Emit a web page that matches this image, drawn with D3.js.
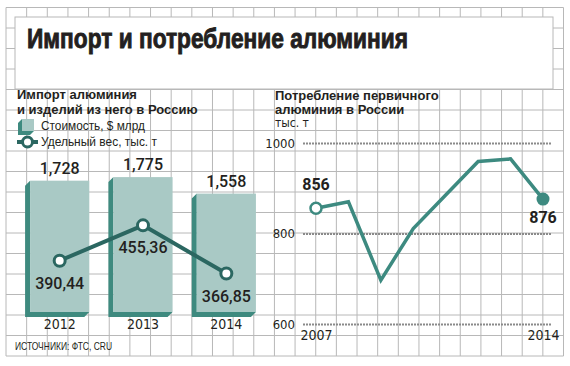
<!DOCTYPE html>
<html>
<head>
<meta charset="utf-8">
<script src="https://cdn.jsdelivr.net/npm/d3@7"></script>
<style>
  body { margin: 0; background: #fff; }
  text { fill: #231f20; }
</style>
</head>
<body>
<div id="chart"></div>
<script>
// data
const barYears = ["2012", "2013", "2014"];
const importCost = [1.728, 1.775, 1.558];       // $ млрд
const importWeight = [390.44, 455.36, 366.85];  // тыс. т
const consYears = [2007, 2008, 2009, 2010, 2011, 2012, 2013, 2014];
const consValues = [856, 870, 697, 811, 885, 959, 965, 876];
const consTicks = [600, 800, 1000];
const consXTicks = [2007, 2014];

const W = 570, H = 366;
const ru = d3.formatLocale({decimal: ",", thousands: " ", grouping: [3], currency: ["", ""]});

let svg = d3.select("#chart").append("svg")
    .attr("width", W).attr("height", H);

// graph paper background
const gridCol = "#b8b8b8";
let gx0 = 6, gx1 = 563.5, gy0 = 7.5, gy1 = 356;
let grid = svg.append("g");
for (let k = 0; k <= 27; k++) {
    let x = gx0 + (gx1 - gx0) / 27 * k;
    grid.append("line").attr("x1", x).attr("x2", x).attr("y1", gy0).attr("y2", gy1)
        .attr("stroke", gridCol).attr("stroke-width", 1);
}
for (let k = 0; k <= 17; k++) {
    let y = gy0 + (gy1 - gy0) / 17 * k;
    grid.append("line").attr("x1", gx0).attr("x2", gx1).attr("y1", y).attr("y2", y)
        .attr("stroke", gridCol).attr("stroke-width", 1);
}

const boldFont = "'Liberation Sans', Arial, sans-serif";
const narrow = "'Liberation Sans Narrow', 'DejaVu Sans Condensed', sans-serif";
const numFont = "Roboto, sans-serif";

// title box
svg.append("rect").attr("x", 15).attr("y", 17).attr("width", 538).attr("height", 72)
    .attr("fill", "#fff").attr("stroke", gridCol);
svg.append("text").attr("x", 27).attr("y", 48)
    .attr("textLength", 381).attr("lengthAdjust", "spacingAndGlyphs")
    .style("font-family", boldFont)
    .style("font-weight", "bold").style("font-size", "27px")
    .style("stroke", "#231f20").style("stroke-width", "0.9px")
    .text("Импорт и потребление алюминия");

// ---------- left chart: import ----------
let left = svg.append("g");
left.append("text").attr("x", 17).attr("y", 99)
    .style("font-family", boldFont).style("font-weight", "bold").style("font-size", "13px")
    .text("Импорт алюминия");
left.append("text").attr("x", 17).attr("y", 114)
    .style("font-family", boldFont).style("font-weight", "bold").style("font-size", "13px")
    .text("и изделий из него в Россию");

const lightTeal = "#a9c9c5", darkTeal = "#3e8a7f", lineTeal = "#2b6761";

// legend
left.append("polygon").attr("points", "22,119 18,123 18,135 30,135 34,131 22,131")
    .attr("fill", darkTeal);
left.append("rect").attr("x", 22).attr("y", 119).attr("width", 12).attr("height", 12)
    .attr("fill", lightTeal);
left.append("text").attr("x", 41).attr("y", 130)
    .attr("textLength", 104).attr("lengthAdjust", "spacingAndGlyphs")
    .style("font-family", boldFont).style("font-size", "13px")
    .text("Стоимость, $ млрд");
left.append("line").attr("x1", 17).attr("x2", 38).attr("y1", 142).attr("y2", 142)
    .attr("stroke", lineTeal).attr("stroke-width", 4);
left.append("circle").attr("cx", 27.5).attr("cy", 142).attr("r", 5)
    .attr("fill", "#fff").attr("stroke", lineTeal).attr("stroke-width", 3);
left.append("text").attr("x", 41).attr("y", 146)
    .attr("textLength", 116).attr("lengthAdjust", "spacingAndGlyphs")
    .style("font-family", boldFont).style("font-size", "13px")
    .text("Удельный вес, тыс. т");

let xb = d3.scaleBand().domain(barYears).range([18, 268])
    .paddingInner(0.29).paddingOuter(0.145);
let yb = d3.scaleLinear().domain([0, 2]).range([312, 160]);
let yw = d3.scaleLinear().domain([300, 500]).range([310, 201]);
const d = 5;

let bars = left.selectAll(".bar").data(barYears).enter().append("g");
bars.append("polygon")
    .attr("points", (yr, i) => {
        let x = xb(yr), w = xb.bandwidth(), t = yb(importCost[i]), b = yb(0);
        return [[x, t], [x - d, t + d], [x - d, b + d], [x + w - d, b + d], [x + w, b], [x, b]].join(" ");
    })
    .attr("fill", darkTeal);
bars.append("rect")
    .attr("x", yr => xb(yr))
    .attr("y", (yr, i) => yb(importCost[i]))
    .attr("width", xb.bandwidth())
    .attr("height", (yr, i) => yb(0) - yb(importCost[i]))
    .attr("fill", lightTeal);
bars.append("text")
    .attr("x", yr => xb(yr) + xb.bandwidth() / 2)
    .attr("y", (yr, i) => yb(importCost[i]) - 7)
    .attr("text-anchor", "middle")
    .style("font-family", numFont).style("font-weight", "500").style("font-size", "16px")
    .text((yr, i) => ru.format(".3f")(importCost[i]));

// x axis years
let axB = left.append("g").attr("transform", "translate(0,317)")
    .call(d3.axisBottom(xb).tickSize(0).tickPadding(0));
axB.select(".domain").remove();
axB.selectAll("text").attr("dy", "0").attr("y", 12)
    .style("font-family", narrow).style("font-size", "14px").style("fill", "#231f20");

// weight line
let cx = yr => xb(yr) + xb.bandwidth() / 2;
left.append("path")
    .attr("d", d3.line().x((v, i) => cx(barYears[i])).y(v => yw(v))(importWeight))
    .attr("fill", "none").attr("stroke", lineTeal).attr("stroke-width", 4)
    .attr("stroke-linejoin", "round");
left.selectAll(".wpt").data(importWeight).enter().append("circle")
    .attr("cx", (v, i) => cx(barYears[i])).attr("cy", v => yw(v)).attr("r", 5.5)
    .attr("fill", "#fff").attr("stroke", lineTeal).attr("stroke-width", 3);
left.selectAll(".wlab").data(importWeight).enter().append("text")
    .attr("x", (v, i) => cx(barYears[i])).attr("y", v => yw(v) + 28)
    .attr("text-anchor", "middle")
    .style("font-family", numFont).style("font-weight", "500").style("font-size", "16px")
    .text(v => ru.format(".2f")(v));

// source
svg.append("text").attr("x", 15).attr("y", 350)
    .attr("textLength", 97).attr("lengthAdjust", "spacingAndGlyphs")
    .style("font-family", boldFont).style("font-size", "11px")
    .text("ИСТОЧНИКИ: ФТС, CRU");

// ---------- right chart: consumption ----------
let right = svg.append("g");
right.append("text").attr("x", 275).attr("y", 100)
    .style("font-family", boldFont).style("font-weight", "bold").style("font-size", "13px")
    .text("Потребление первичного");
right.append("text").attr("x", 275).attr("y", 114)
    .style("font-family", boldFont).style("font-weight", "bold").style("font-size", "13px")
    .text("алюминия в России");
right.append("text").attr("x", 275).attr("y", 127)
    .style("font-family", narrow).style("font-size", "12px")
    .text("тыс. т");

let xc = d3.scaleLinear().domain([2007, 2014]).range([316, 543]);
let yc = d3.scaleLinear().domain([600, 1000]).range([324, 143]);

let axL = right.append("g").attr("transform", "translate(303,0)")
    .call(d3.axisLeft(yc).tickValues(consTicks).tickSize(-249).tickPadding(8).tickFormat(d3.format("d")));
axL.select(".domain").remove();
axL.selectAll("line").attr("stroke", "#8a8a8a").attr("stroke-width", 2)
    .attr("stroke-dasharray", "2,1");
axL.selectAll("text")
    .style("font-family", narrow).style("font-size", "13px").style("fill", "#231f20");

let axX = right.append("g").attr("transform", "translate(0,328)")
    .call(d3.axisBottom(xc).tickValues(consXTicks).tickSize(0).tickPadding(0).tickFormat(d3.format("d")));
axX.select(".domain").remove();
axX.selectAll("text").attr("dy", "0").attr("y", 12)
    .style("font-family", narrow).style("font-size", "14px").style("fill", "#231f20");

const consTeal = "#3d8a80";
right.append("path")
    .attr("d", d3.line().x((v, i) => xc(consYears[i])).y(v => yc(v))(consValues))
    .attr("fill", "none").attr("stroke", consTeal).attr("stroke-width", 3.5)
    .attr("stroke-linejoin", "miter");

let last = consValues.length - 1;
right.append("circle").attr("cx", xc(consYears[0])).attr("cy", yc(consValues[0])).attr("r", 5.5)
    .attr("fill", "#fff").attr("stroke", consTeal).attr("stroke-width", 2.5);
right.append("circle").attr("cx", xc(consYears[last])).attr("cy", yc(consValues[last])).attr("r", 6.5)
    .attr("fill", consTeal);
right.append("text").attr("x", xc(consYears[0])).attr("y", yc(consValues[0]) - 18)
    .attr("text-anchor", "middle")
    .style("font-family", numFont).style("font-weight", "bold").style("font-size", "16px")
    .text(consValues[0]);
right.append("text").attr("x", xc(consYears[last])).attr("y", yc(consValues[last]) + 24)
    .attr("text-anchor", "middle")
    .style("font-family", numFont).style("font-weight", "bold").style("font-size", "16px")
    .text(consValues[last]);
</script>
</body>
</html>
